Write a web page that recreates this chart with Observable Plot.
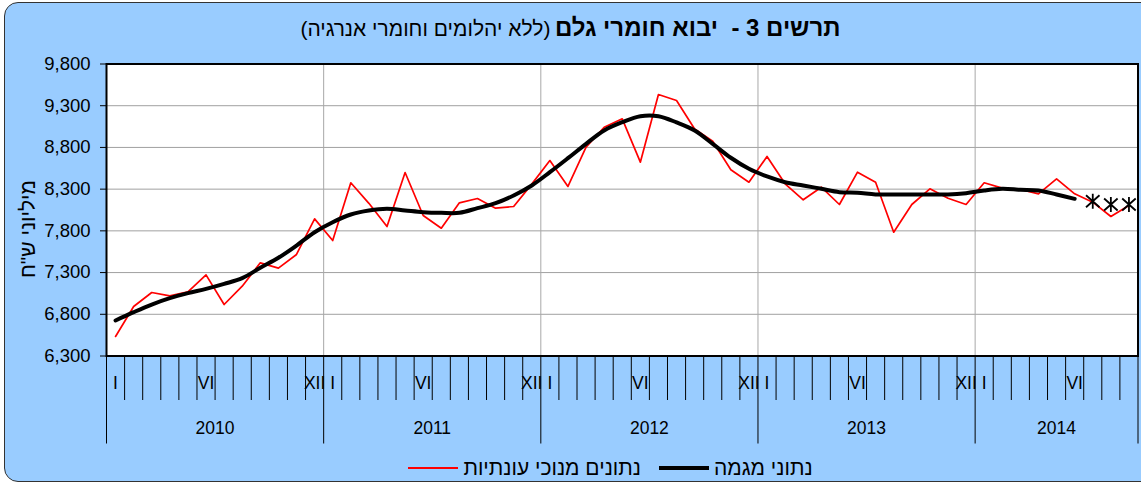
<!DOCTYPE html>
<html><head><meta charset="utf-8">
<script src="https://cdn.jsdelivr.net/npm/d3@7"></script>
<script src="https://cdn.jsdelivr.net/npm/@observablehq/plot@0.6"></script>
<style>
body{margin:0;background:#fff;font-family:"Liberation Sans",Arial,sans-serif;color:#000;}
#wrap{position:relative;width:1141px;height:484px;overflow:hidden;}
#bg{position:absolute;left:4px;top:2px;width:1170px;height:478px;border:1px solid #333;border-radius:14px;background:#99CCFF;}
#title{position:absolute;left:0;top:13px;width:1141px;text-align:center;direction:rtl;white-space:pre;line-height:30px;}
#title b{font-size:24px;}
#title span{font-size:21px;}
#chart{position:absolute;left:0;top:50px;}
#legend{position:absolute;left:0;top:454px;width:1221px;display:flex;justify-content:center;direction:rtl;font-size:21px;line-height:28px;}
.item{display:flex;align-items:center;margin:0 9px;}
.sw{display:inline-block;width:50px;margin-right:5px;}
</style></head>
<body>
<div id="wrap">
<div id="bg"></div>
<div id="title"><b>תרשים 3 -  יבוא חומרי גלם</b> <span>(ללא יהלומים וחומרי אנרגיה)</span></div>
<div id="chart"></div>
<div id="legend">
  <div class="item"><span>נתוני מגמה</span><span class="sw" style="border-top:4px solid #000"></span></div>
  <div class="item"><span>נתונים מנוכי עונתיות</span><span class="sw" style="border-top:2px solid #ff0000"></span></div>
</div>
</div>
<script>
const years = [2010, 2011, 2012, 2013, 2014];
const monthNames = {1: "I", 6: "VI", 12: "XII"};
const yTicks = [6300, 6800, 7300, 7800, 8300, 8800, 9300, 9800];
// seasonally adjusted, Jan 2010 - Sep 2014
const seasonal = [6534, 6893, 7061, 7021, 7070, 7273, 6917, 7137, 7417, 7353, 7517, 7944,
  7684, 8376, 8130, 7852, 8499, 7984, 7832, 8136, 8188, 8072, 8092, 8360,
  8643, 8332, 8803, 9042, 9143, 8623, 9434, 9362, 9020, 8875, 8532, 8383,
  8691, 8364, 8172, 8323, 8116, 8503, 8383, 7784, 8116, 8304, 8190, 8116,
  8376, 8312, 8296, 8244, 8424, 8244, 8144, 7972, 8104];
// trend, Jan 2010 - Jun 2014
const trend = [6726, 6825, 6917, 6993, 7053, 7105, 7165, 7233, 7357, 7477, 7624, 7784,
  7904, 7996, 8044, 8064, 8044, 8024, 8016, 8016, 8072, 8132, 8224, 8344,
  8503, 8671, 8843, 9003, 9102, 9174, 9174, 9100, 9003, 8843, 8676, 8544,
  8452, 8383, 8344, 8304, 8264, 8256, 8236, 8236, 8236, 8236, 8236, 8252,
  8284, 8304, 8292, 8284, 8236, 8184];
// trend estimates, Jul - Sep 2014
const projected = [8155, 8116, 8116];

const n = seasonal.length;
const sa = seasonal.map((v, i) => ({x: i + 0.5, v}));
const tr = trend.map((v, i) => ({x: i + 0.5, v}));
const pr = projected.map((v, i) => ({x: trend.length + i + 0.5, v}));
const monthBounds = d3.range(1, n).filter(i => i % 12 !== 0);
const yearBounds = d3.range(0, n, 12).concat([n]);
const monthLabels = [];
years.forEach((yr, k) => {
  for (const m of [1, 6, 12]) {
    const idx = k * 12 + m - 1;
    if (idx < n) monthLabels.push({x: idx + 0.5, label: monthNames[m]});
  }
});
const yearLabels = years.map((yr, k) => ({x: (k * 12 + Math.min(k * 12 + 12, n)) / 2, label: String(yr)}));

// Excel-style star marker: vertical bar plus an X
const starSymbol = {
  draw(context, size) {
    const r = Math.sqrt(size / Math.PI);
    context.moveTo(0, -r); context.lineTo(0, r);
    context.moveTo(-0.9 * r, -0.8 * r); context.lineTo(0.9 * r, 0.8 * r);
    context.moveTo(-0.9 * r, 0.8 * r); context.lineTo(0.9 * r, -0.8 * r);
  }
};

const chart = Plot.plot({
  width: 1141, height: 400,
  marginLeft: 106, marginRight: 3.5, marginTop: 13.5, marginBottom: 94.5,
  x: {domain: [0, n], axis: null},
  y: {domain: [6300, 9800], axis: null},
  style: {background: "transparent", fontFamily: "'Liberation Sans', Arial, sans-serif", color: "black", overflow: "visible"},
  marks: [
    Plot.frame({fill: "white"}),
    Plot.gridY(yTicks.slice(1, -1), {stroke: "#a0a0a0", strokeOpacity: 1}),
    Plot.gridX(yearBounds.slice(1, -1), {stroke: "#a8a8a8", strokeOpacity: 1}),
    Plot.axisY(yTicks, {tickSize: 6, tickPadding: 10, tickFormat: d3.format(","), fontSize: 18.5, label: null}),
    Plot.axisX(monthBounds, {tickSize: 44.5, tickFormat: () => "", label: null}),
    Plot.axisX(yearBounds, {tickSize: 88, tickFormat: () => "", label: null}),
    Plot.text(monthLabels, {x: "x", text: "label", frameAnchor: "bottom", lineAnchor: "middle", dy: 27.5, fontSize: 17.5}),
    Plot.text(yearLabels, {x: "x", text: "label", frameAnchor: "bottom", lineAnchor: "middle", dy: 72.5, fontSize: 17.5}),
    Plot.text(["מיליוני ש\"ח"], {frameAnchor: "left", textAnchor: "middle", lineAnchor: "middle", dx: -78, dy: 19, rotate: -90, fontSize: 21}),
    Plot.line(sa, {x: "x", y: "v", stroke: "#ff0000", strokeWidth: 1.7}),
    Plot.line(tr, {x: "x", y: "v", stroke: "black", strokeWidth: 4, curve: "catmull-rom"}),
    Plot.dot(pr, {x: "x", y: "v", symbol: starSymbol, r: 7.5, stroke: "black", strokeWidth: 1.8}),
    Plot.frame({stroke: "black", strokeWidth: 2})
  ]
});
document.getElementById("chart").appendChild(chart);
</script>
</body></html>
